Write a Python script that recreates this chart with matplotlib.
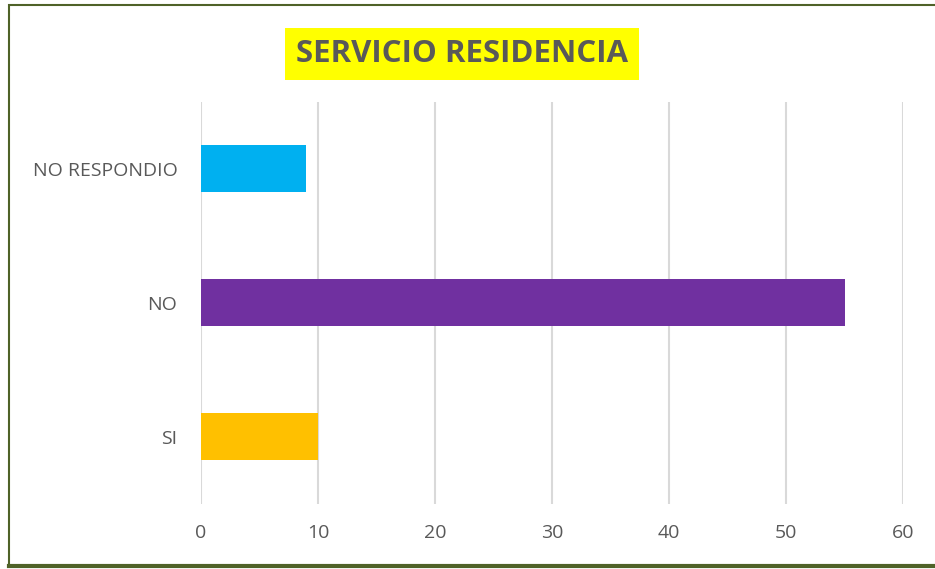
import matplotlib.pyplot as plt
from matplotlib.patches import Rectangle
from matplotlib.lines import Line2D

categories = ["SI", "NO", "NO RESPONDIO"]
values = [10, 55, 9]
colors = ["#FFC000", "#7030A0", "#00B0F0"]
xticks = [0, 10, 20, 30, 40, 50, 60]

W, H = 935, 569
fig = plt.figure(figsize=(W / 100, H / 100), dpi=100)
fig.patch.set_facecolor("white")

# axes placed in pixel terms
ax = fig.add_axes([201 / W, 1 - 503.5 / H, (903 - 201) / W, (503.5 - 101.5) / H])
ax.barh(categories, values, height=0.35, color=colors, zorder=3)
ax.set_xlim(0, 60)
ax.set_ylim(-0.5, 2.5)
ax.set_xticks(xticks)
ax.grid(axis="x", color="#D9D9D9", lw=1.5, zorder=0)
for s in ax.spines.values():
    s.set_visible(False)
ax.tick_params(axis="both", length=0, labelsize=14, labelcolor="#595959")
ax.tick_params(axis="x", pad=15)
ax.tick_params(axis="y", pad=17)
for lab in ax.get_xticklabels() + ax.get_yticklabels():
    lab.set_family("Open Sans")

# title with yellow background
fig.text(462 / W, 1 - 54 / H, "SERVICIO RESIDENCIA", ha="center", va="center",
         fontsize=22.5, fontweight="bold", color="#595959", family="Open Sans",
         bbox=dict(facecolor="#FFFF00", edgecolor="none", pad=8))

# outer frame
fig.add_artist(Rectangle((9 / W, 1 - 566 / H), (W + 10) / W, (566 - 5) / H,
                         transform=fig.transFigure, fill=False,
                         edgecolor="#4F6228", lw=1.5))
fig.add_artist(Line2D([9 / W, 1], [1 - 566 / H, 1 - 566 / H],
                      transform=fig.transFigure, color="#4F6228", lw=3))

fig.savefig("out.png", dpi=100)
